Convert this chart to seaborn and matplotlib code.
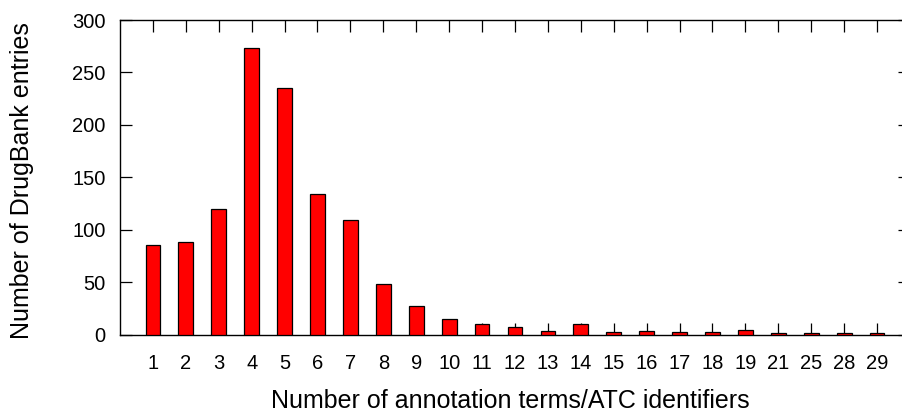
import matplotlib
matplotlib.use("Agg")
import matplotlib.pyplot as plt
import seaborn as sns
import pandas as pd

# Number of annotation terms per entry and how many DrugBank entries have that many
terms = ["1", "2", "3", "4", "5", "6", "7", "8", "9", "10", "11", "12",
         "13", "14", "15", "16", "17", "18", "19", "21", "25", "28", "29"]
entries = [85, 88, 120, 273, 235, 134, 109, 48, 27, 15, 10, 7,
           3, 10, 2, 3, 2, 2, 4, 1, 1, 1, 1]
y_ticks = [0, 50, 100, 150, 200, 250, 300]

sns.set_style("ticks")
plt.rcParams["font.family"] = ["Liberation Sans", "DejaVu Sans"]
plt.rcParams["text.color"] = "black"
plt.rcParams["axes.labelcolor"] = "black"

df = pd.DataFrame({"terms": terms, "entries": entries})

W, H = 902, 415
fig = plt.figure(figsize=(W / 100, H / 100), dpi=100)
# plot frame: the right edge runs slightly past the canvas
ax = fig.add_axes([120 / W, 1 - 334.5 / H, 790 / W, 314.5 / H])

sns.barplot(data=df, x="terms", y="entries", order=terms, color="#ff0000",
            width=0.45, edgecolor="black", linewidth=0.9, saturation=1,
            ax=ax, zorder=3)

ax.set_axisbelow(True)
ax.set_xlim(-1, len(terms))
ax.set_ylim(0, 300)
ax.set_yticks(y_ticks)

for side in ["left", "right", "top", "bottom"]:
    ax.spines[side].set_visible(True)
    ax.spines[side].set_linewidth(1.0)
    ax.spines[side].set_color("black")

tick_len = 12 * 72 / 100
ax.tick_params(axis="x", direction="in", length=tick_len, width=0.9,
               top=True, bottom=True, labelsize=14.5, pad=14,
               colors="black", labelcolor="black")
ax.tick_params(axis="y", direction="in", length=tick_len, width=0.9,
               left=True, right=True, labelsize=14.5, pad=10.5,
               colors="black", labelcolor="black")

ax.set_xlabel("Number of annotation terms/ATC identifiers", fontsize=18)
ax.set_ylabel("Number of DrugBank entries", fontsize=18)
ax.xaxis.set_label_coords((510 - 120) / 790, (334.5 - 389) / 314.5)
ax.yaxis.set_label_coords((34 - 120) / 790, 0.49)

fig.savefig("out.png", dpi=100)
